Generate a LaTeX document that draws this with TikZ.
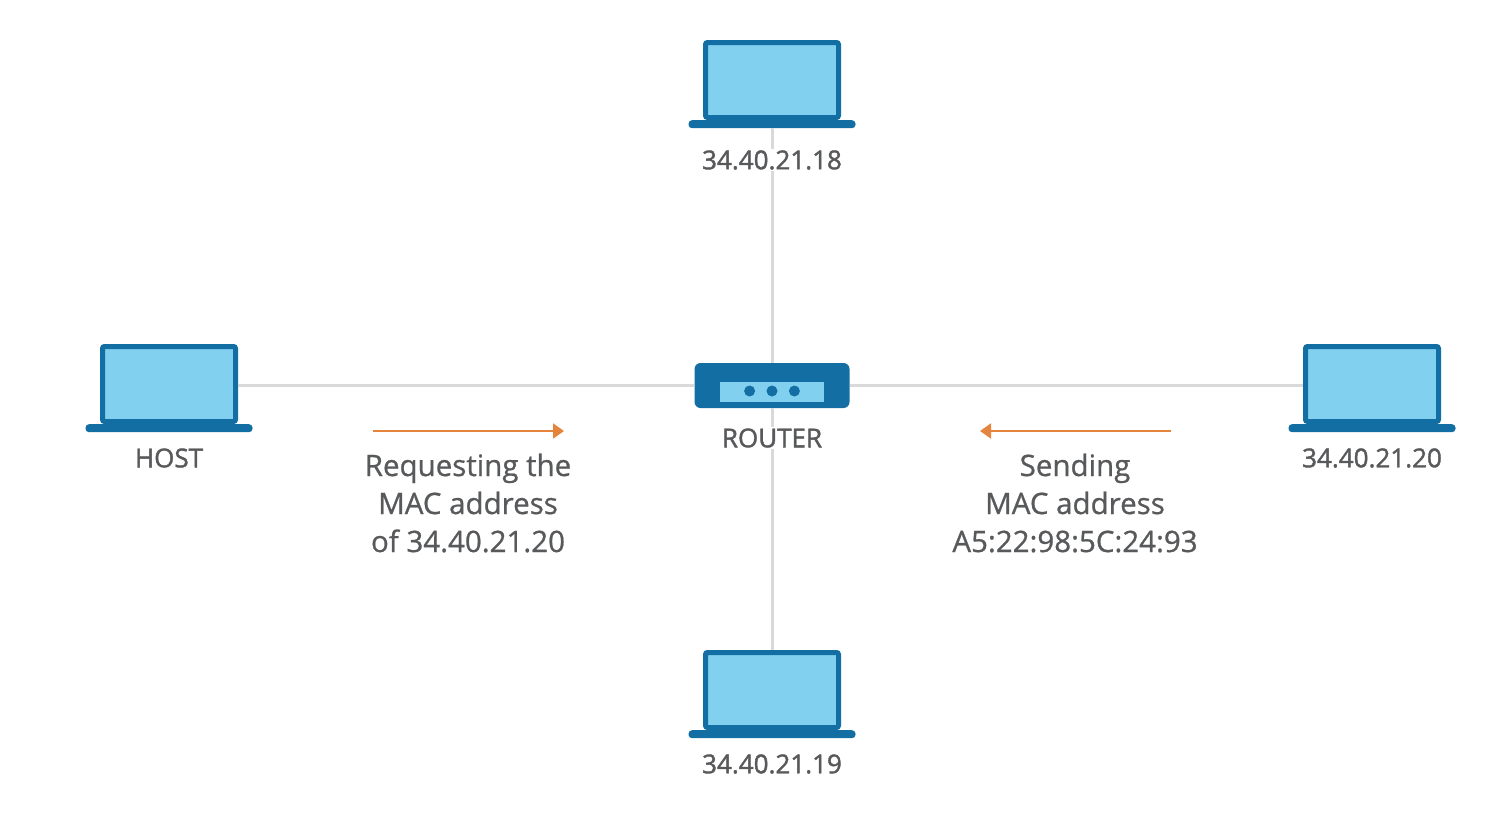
\documentclass[tikz,border=0pt]{standalone}
\usepackage{fontspec}
\setmainfont{Open Sans}
\newfontfamily\lblfont[FakeBold=1.5]{Open Sans}
\newfontfamily\msgfont[FakeBold=0.8]{Open Sans}
\usetikzlibrary{arrows.meta,positioning}
\definecolor{pcblue}{HTML}{136EA3}
\definecolor{pclight}{HTML}{81D0F0}
\definecolor{linkgray}{HTML}{D9D9D9}
\definecolor{txtgray}{HTML}{58595B}
\definecolor{arrorange}{HTML}{E5853D}

\begin{document}
\begin{tikzpicture}[
  x=1pt, y=-1pt,
  node distance=0pt,
  screen/.style={draw=pcblue, fill=pclight, line width=5pt, rounded corners=2pt, minimum width=133pt, minimum height=75pt, inner sep=0pt},
  base/.style={fill=pcblue, rounded corners=3.5pt, minimum width=167pt, minimum height=8pt, inner sep=0pt},
  link/.style={draw=linkgray, line width=3pt},
  lbl/.style={font=\lblfont\fontsize{26}{38}\selectfont, text=txtgray, fill=white, inner sep=1pt, align=center},
  msg/.style={font=\msgfont\fontsize{29.5}{38}\selectfont, text=txtgray, align=center, inner sep=0pt},
  arr/.style={-{Triangle[length=11pt,width=15pt]}, draw=arrorange, line width=2pt},
  dot/.style={circle, fill=pcblue, minimum size=11pt, inner sep=0pt},
]
  \useasboundingbox (0,0) rectangle (1506,836);

  \node[screen] (topscreen) at (772,80) {};
  \node[base, below=of topscreen] (topbase) {};
  \node[screen] (hostscreen) at (169,384) {};
  \node[base, below=of hostscreen] (hostbase) {};
  \node[screen] (rightscreen) at (1372,384) {};
  \node[base, below=of rightscreen] (rightbase) {};
  \node[screen] (botscreen) at (772,690) {};
  \node[base, below=of botscreen] (botbase) {};

  \node[fill=pcblue, rounded corners=6pt, minimum width=155pt, minimum height=45pt, inner sep=0pt] (router) at (772,385.5) {};
  \node[fill=pclight, minimum width=104pt, minimum height=20pt, inner sep=0pt] (panel) at (772,392) {};
  \node[dot] (dotb) at (772,391) {};
  \node[dot, left=11pt of dotb] (dota) {};
  \node[dot, right=11pt of dotb] (dotc) {};

  \draw[link] (topbase) -- (router);
  \draw[link] (router) -- (botscreen);
  \draw[link] (router.west) -- (router.west -| hostscreen.east);
  \draw[link] (router.east) -- (router.east -| rightscreen.west);

  \node[lbl] (toplbl) at (772,160) {34.40.21.18};
  \node[lbl] (hostlbl) at (169,458) {HOST};
  \node[lbl] (routerlbl) at (772,438) {ROUTER};
  \node[lbl] (rightlbl) at (1372,458) {34.40.21.20};
  \node[lbl] (botlbl) at (772,764) {34.40.21.19};

  \node[msg] (reqmsg) at (468,503) {Requesting the\\MAC address\\of 34.40.21.20};
  \node[msg] (sendmsg) at (1075,503) {Sending\\MAC address\\A5:22:98:5C:24:93};

  \coordinate (reqa) at (373,431);
  \coordinate (reqb) at (564,431);
  \coordinate (senda) at (1171,431);
  \coordinate (sendb) at (980,431);
  \draw[arr] (reqa) -- (reqb);
  \draw[arr] (senda) -- (sendb);
\end{tikzpicture}
\end{document}
